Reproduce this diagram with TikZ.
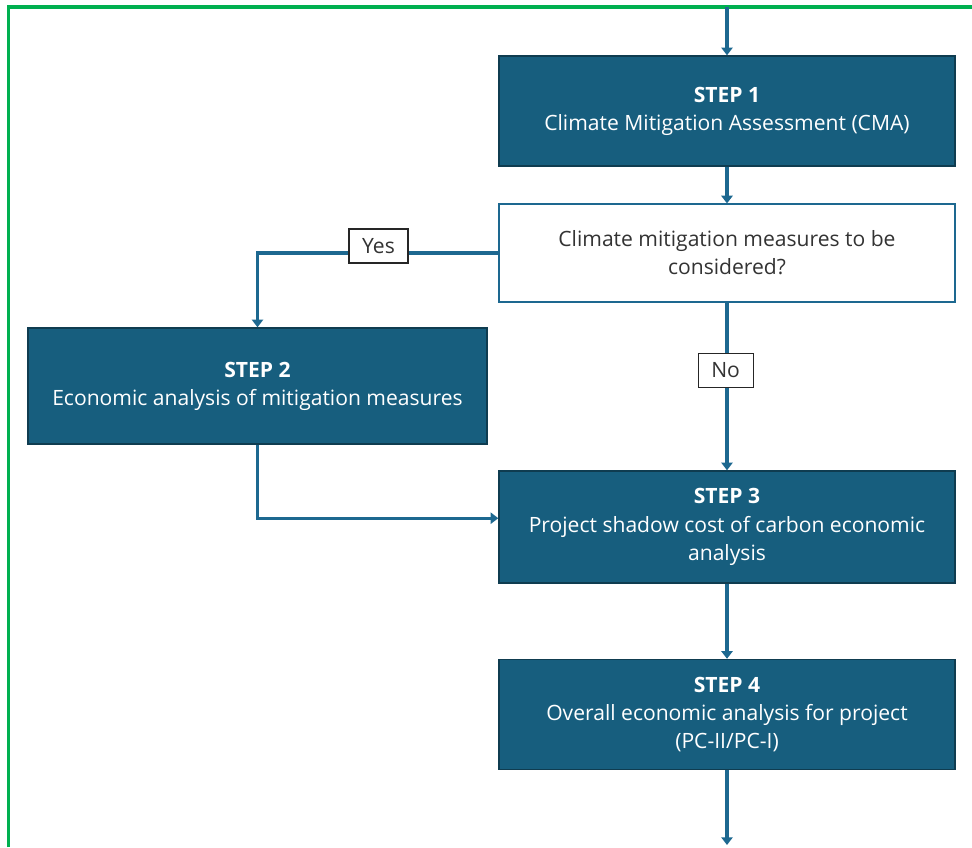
\documentclass[tikz,border=0pt]{standalone}
\usepackage{fontspec}
\setmainfont{Open Sans}
\usetikzlibrary{arrows.meta}
\definecolor{stepblue}{HTML}{175E7E}
\definecolor{stepedge}{HTML}{0F3C50}
\definecolor{linkblue}{HTML}{1D6890}
\definecolor{frame}{HTML}{00B050}
\begin{document}
\begin{tikzpicture}[
    stepbox/.style={draw=stepedge, line width=1pt, fill=stepblue, text=white, align=center,
        minimum width=11.4cm, minimum height=2.75cm, font=\fontsize{15}{20}\selectfont},
    askbox/.style={draw=linkblue, line width=0.8pt, fill=white, text=black!80, align=center,
        minimum width=11.4cm, minimum height=2.45cm, font=\fontsize{15}{20}\selectfont},
    tagbox/.style={draw=black!85, line width=0.8pt, fill=white, text=black!80, inner sep=0pt,
        minimum height=0.85cm, font=\fontsize{15}{17}\selectfont},
    link/.style={draw=linkblue, line width=2.4pt, -{Triangle[width=8pt,length=5.5pt]}}
    ]
    \useasboundingbox (0,0) rectangle (24.3,-21.175);
    \draw[frame, line width=2.4pt] (0.2125,-21.175) |- (24.3,-0.175);

    \node[stepbox] (step1) at (18.175,-2.775) {\textbf{STEP 1}\\Climate Mitigation Assessment (CMA)};
    \node[askbox] (ask) at (18.175,-6.325) {Climate mitigation measures to be\\considered?};
    \node[stepbox, minimum width=11.475cm, minimum height=2.9cm] (step2) at (6.4375,-9.65)
        {\textbf{STEP 2}\\Economic analysis of mitigation measures};
    \node[stepbox, minimum height=2.8cm] (step3) at (18.175,-13.175)
        {\textbf{STEP 3}\\Project shadow cost of carbon economic\\analysis};
    \node[stepbox] (step4) at (18.175,-17.8625)
        {\textbf{STEP 4}\\Overall economic analysis for project\\(PC-II/PC-I)};

    \coordinate (in) at (18.175,-0.175);
    \coordinate (out) at (18.175,-21.125);

    \draw[link] (in) -- (step1);
    \draw[link] (step1) -- (ask);
    \draw[link] (ask.west) -| (step2.north);
    \draw[link] (ask) -- (step3);
    \draw[link] (step2.south) |- ([yshift=2.2mm]step3.west);
    \draw[link] (step3) -- (step4);
    \draw[link] (step4) -- (out);

    \node[tagbox, minimum width=1.475cm] (yes) at (9.4625,-6.15) {Yes};
    \node[tagbox, minimum width=1.375cm] (no) at (18.14,-9.26) {No};
\end{tikzpicture}
\end{document}
